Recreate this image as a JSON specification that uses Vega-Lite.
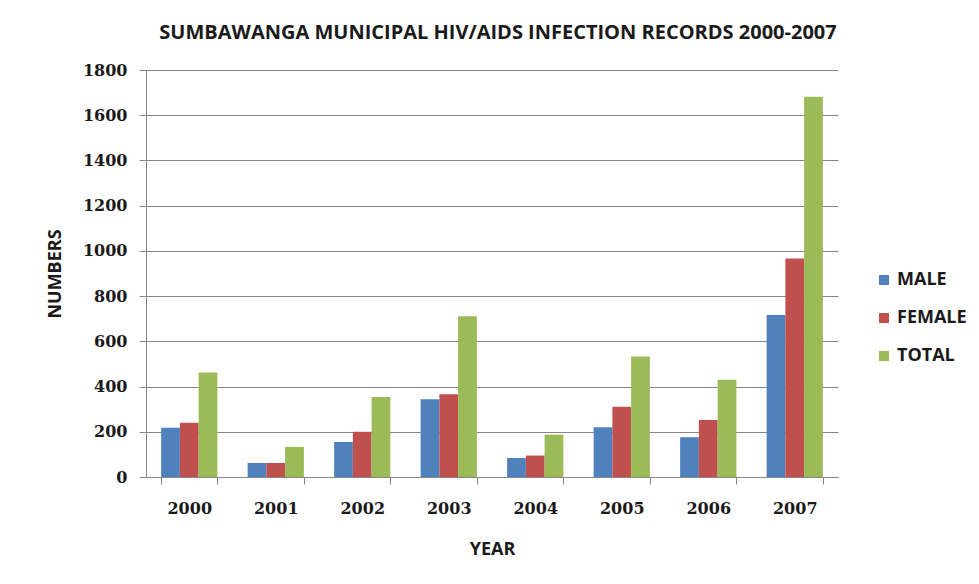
{
  "$schema": "https://vega.github.io/schema/vega-lite/v6.json",
  "autosize": {"type": "none"},
  "width": 692,
  "height": 407,
  "padding": {"left": 146, "top": 70, "right": 141, "bottom": 107},
  "background": "white",
  "title": {
    "text": "SUMBAWANGA MUNICIPAL HIV/AIDS INFECTION RECORDS 2000-2007",
    "font": "Open Sans",
    "fontSize": 20,
    "fontWeight": "bold",
    "color": "#1a1a1a",
    "anchor": "middle",
    "dx": 6,
    "offset": 19
  },
  "data": {
    "values": [
      {"year": "2000", "group": "MALE", "value": 218},
      {"year": "2000", "group": "FEMALE", "value": 240},
      {"year": "2000", "group": "TOTAL", "value": 462},
      {"year": "2001", "group": "MALE", "value": 62},
      {"year": "2001", "group": "FEMALE", "value": 62},
      {"year": "2001", "group": "TOTAL", "value": 133},
      {"year": "2002", "group": "MALE", "value": 155},
      {"year": "2002", "group": "FEMALE", "value": 200},
      {"year": "2002", "group": "TOTAL", "value": 354},
      {"year": "2003", "group": "MALE", "value": 344},
      {"year": "2003", "group": "FEMALE", "value": 366},
      {"year": "2003", "group": "TOTAL", "value": 711},
      {"year": "2004", "group": "MALE", "value": 84},
      {"year": "2004", "group": "FEMALE", "value": 95},
      {"year": "2004", "group": "TOTAL", "value": 187},
      {"year": "2005", "group": "MALE", "value": 220},
      {"year": "2005", "group": "FEMALE", "value": 311},
      {"year": "2005", "group": "TOTAL", "value": 533},
      {"year": "2006", "group": "MALE", "value": 176},
      {"year": "2006", "group": "FEMALE", "value": 252},
      {"year": "2006", "group": "TOTAL", "value": 430},
      {"year": "2007", "group": "MALE", "value": 716},
      {"year": "2007", "group": "FEMALE", "value": 966},
      {"year": "2007", "group": "TOTAL", "value": 1682}
    ]
  },
  "mark": {"type": "bar"},
  "encoding": {
    "x": {
      "field": "year",
      "type": "nominal",
      "scale": {"paddingInner": 0.35, "paddingOuter": 0.175},
      "axis": {
        "title": "YEAR",
        "titleFont": "Open Sans",
        "titleFontSize": 18,
        "titleFontWeight": "bold",
        "titleColor": "#1a1a1a",
        "titlePadding": 24,
        "labelAngle": 0,
        "labelFont": "DejaVu Serif",
        "labelFontSize": 16,
        "labelFontWeight": "bold",
        "labelColor": "#1a1a1a",
        "labelPadding": 16,
        "domainColor": "#868686",
        "tickColor": "#868686",
        "tickSize": 7,
        "tickBand": "extent",
        "grid": false
      }
    },
    "xOffset": {"field": "group", "type": "nominal", "sort": ["MALE", "FEMALE", "TOTAL"], "scale": {"paddingInner": 0, "paddingOuter": 0}},
    "y": {
      "field": "value",
      "type": "quantitative",
      "scale": {"domain": [0, 1800], "nice": false},
      "axis": {
        "title": "NUMBERS",
        "titleFont": "Open Sans",
        "titleFontSize": 18,
        "titleFontWeight": "bold",
        "titleColor": "#1a1a1a",
        "titlePadding": 18,
        "values": [0, 200, 400, 600, 800, 1000, 1200, 1400, 1600, 1800],
        "format": "d",
        "labelFont": "DejaVu Serif",
        "labelFontSize": 16,
        "labelFontWeight": "bold",
        "labelColor": "#1a1a1a",
        "labelPadding": 12,
        "domainColor": "#868686",
        "tickColor": "#868686",
        "tickSize": 7,
        "grid": true,
        "gridColor": "#868686",
        "gridWidth": 1
      }
    },
    "color": {
      "field": "group",
      "type": "nominal",
      "scale": {"domain": ["MALE", "FEMALE", "TOTAL"], "range": ["#4F81BD", "#C0504D", "#9BBB59"]},
      "legend": {
        "title": null,
        "orient": "none",
        "legendX": 729,
        "legendY": 201,
        "symbolType": "square",
        "symbolSize": 100,
        "symbolStrokeWidth": 0,
        "labelFont": "Open Sans",
        "labelFontSize": 18,
        "labelFontWeight": "bold",
        "labelColor": "#1a1a1a",
        "rowPadding": 20,
        "labelOffset": 4
      }
    }
  },
  "config": {
    "view": {"stroke": null},
    "axis": {"domainWidth": 1, "tickWidth": 1}
  }
}
